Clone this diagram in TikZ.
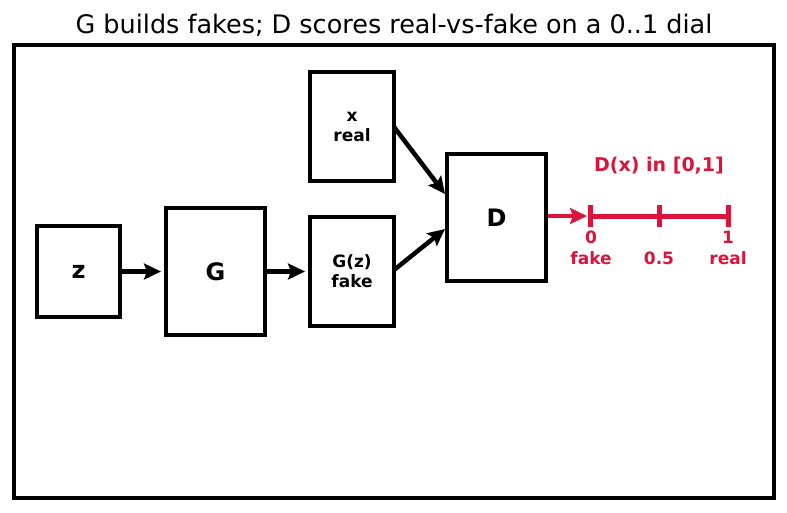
\documentclass[tikz,border=0pt]{standalone}
\usepackage{fontspec}
\setmainfont{DejaVu Sans}
\usetikzlibrary{arrows.meta}
\definecolor{crim}{RGB}{220,20,60}
\tikzset{
  box/.style={draw=black, line width=4pt, fill=white, inner sep=0pt, font=\bfseries},
  arr/.style={line width=4.5pt, -{Stealth[length=17pt,width=16pt,inset=3pt]}},
  lbl/.style={text=crim, font=\bfseries\fontsize{17}{19}\selectfont, inner sep=0pt},
}
\begin{document}
\begin{tikzpicture}[x=1pt,y=-1pt]
\useasboundingbox (0,0) rectangle (787,512);
\node[font=\fontsize{25.5}{30}\selectfont] (title) at (394,25) {G builds fakes; D scores real-vs-fake on a 0..1 dial};
\draw[line width=4pt] (14,45) rectangle (774,498);
\node[box, minimum width=83pt, minimum height=91pt, font=\bfseries\fontsize{24}{26}\selectfont] (z) at (78.5,271.5) {z};
\node[box, minimum width=99pt, minimum height=127pt, font=\bfseries\fontsize{24}{28}\selectfont] (G) at (215.5,271.5) {G};
\node[box, minimum width=84pt, minimum height=109pt, align=center, font=\bfseries\fontsize{17}{20}\selectfont] (x) at (352,126.5) {x\\real};
\node[box, minimum width=84pt, minimum height=109pt, align=center, font=\bfseries\fontsize{17}{20}\selectfont] (Gz) at (352,271.5) {G(z)\\fake};
\node[box, minimum width=99pt, minimum height=127pt, font=\bfseries\fontsize{24}{28}\selectfont] (D) at (496.5,217.5) {D};
\draw[arr] (z.east) -- ([xshift=-3pt]G.west);
\draw[arr] (G.east) -- ([xshift=-3pt]Gz.west);
\coordinate (d1) at (445,194);
\coordinate (d2) at (445,229);
\draw[arr] (394,127) -- (d1);
\draw[arr] (394,270) -- (d2);
% dial
\coordinate (t0) at (590,216);
\coordinate (t5) at (659,216);
\coordinate (t1) at (728,216);
\draw[arr, draw=crim, fill=crim] (D.east |- t0) -- (587,216);
\draw[crim, line width=5pt] (t0) -- (t1);
\foreach \p in {t0,t5,t1} \draw[crim, line width=5pt] ([yshift=-11pt]\p) -- ([yshift=11pt]\p);
\node[lbl] (l0) at (591,237) {0};
\node[lbl] (l1) at (728,237) {1};
\node[lbl] (lf) at (591,258) {fake};
\node[lbl] (l5) at (659,258) {0.5};
\node[lbl] (lr) at (728,258) {real};
\node[lbl, font=\bfseries\fontsize{19}{22}\selectfont] (dx) at (659,166) {D(x) in [0,1]};
\end{tikzpicture}
\end{document}
